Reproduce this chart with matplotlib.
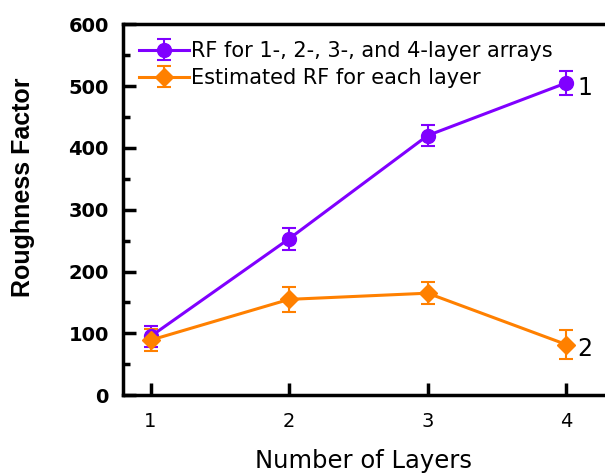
import matplotlib.pyplot as plt
from matplotlib.ticker import MultipleLocator

layers = [1, 2, 3, 4]
rf_arrays = [95, 253, 420, 505]
rf_arrays_err = [17, 18, 17, 20]
rf_layer = [89, 155, 165, 82]
rf_layer_err = [18, 20, 18, 24]

purple = '#8000ff'
orange = '#ff8000'

fig = plt.figure(figsize=(6.05, 4.75), dpi=100)
ax = fig.add_axes([0.203, 0.168, 0.797, 0.781])

ax.errorbar(layers, rf_arrays, yerr=rf_arrays_err, color=purple, marker='o',
            markersize=10,
            linewidth=2.2, capsize=5, elinewidth=1.5, capthick=1.5,
            label='RF for 1-, 2-, 3-, and 4-layer arrays')
ax.errorbar(layers, rf_layer, yerr=rf_layer_err, color=orange, marker='D',
            markersize=9,
            linewidth=2.2, capsize=5, elinewidth=1.5, capthick=1.5,
            label='Estimated RF for each layer')

ax.text(layers[-1] + 0.08, rf_arrays[-1] - 8, '1', fontsize=17, va='center',
        family='DejaVu Sans')
ax.text(layers[-1] + 0.08, rf_layer[-1] - 8, '2', fontsize=17, va='center',
        family='DejaVu Sans')

ax.set_xlim(0.8, 4.28)
ax.set_ylim(0, 600)
ax.set_xticks(layers)
ax.yaxis.set_major_locator(MultipleLocator(100))
ax.yaxis.set_minor_locator(MultipleLocator(50))

ax.spines['right'].set_visible(False)
for side in ['left', 'bottom', 'top']:
    ax.spines[side].set_linewidth(2.5)

ax.tick_params(axis='both', which='major', direction='in', length=9, width=2.5,
               labelsize=14)
ax.tick_params(axis='y', which='minor', direction='in', length=5, width=2.5)
ax.tick_params(axis='x', pad=12)
ax.tick_params(axis='y', pad=10)
for lab in ax.get_yticklabels():
    lab.set_family('DejaVu Sans')
    lab.set_fontweight('bold')
for lab in ax.get_xticklabels():
    lab.set_family('DejaVu Sans')

ax.set_ylabel('Roughness Factor', fontsize=18, fontweight='bold',
              family='Liberation Sans')
ax.yaxis.set_label_coords(-0.183, 0.56)
ax.set_xlabel('Number of Layers', fontsize=17.5, family='DejaVu Sans', labelpad=13)

ax.legend(loc='upper left', frameon=False, handlelength=2.4,
          handletextpad=0.05, borderaxespad=0.6, labelspacing=0.35,
          borderpad=0.2, prop={'family': 'DejaVu Sans', 'size': 15})

plt.savefig('out.png', dpi=100)
